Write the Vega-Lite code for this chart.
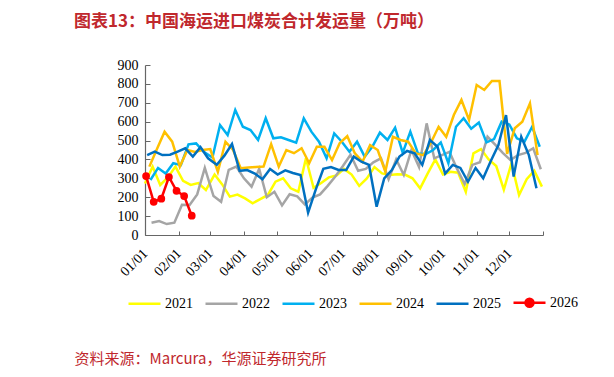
{
"$schema": "https://vega.github.io/schema/vega-lite/v6.json",
"width": 398, "height": 170,
"autosize": {"type": "none"},
"padding": {"left": 145, "top": 65, "right": 71, "bottom": 142},
"background": "white",
"config": {"view": {"stroke": null}, "font": "Liberation Serif"},
"title": {"text": "图表13：中国海运进口煤炭合计发运量（万吨）", "anchor": "start", "frame": "group", "dx": -71, "offset": 27, "font": "Noto Sans CJK SC", "fontSize": 17, "fontWeight": "bold", "color": "#C0282D"},
"data": {"values": [
{"year":"2021","date":"2021-01-01","value":273},{"year":"2021","date":"2021-01-08","value":362},{"year":"2021","date":"2021-01-15","value":265},{"year":"2021","date":"2021-01-22","value":305},{"year":"2021","date":"2021-01-29","value":362},{"year":"2021","date":"2021-02-05","value":287},{"year":"2021","date":"2021-02-12","value":265},{"year":"2021","date":"2021-02-19","value":275},{"year":"2021","date":"2021-02-26","value":238},{"year":"2021","date":"2021-03-05","value":320},{"year":"2021","date":"2021-03-12","value":268},{"year":"2021","date":"2021-03-19","value":203},{"year":"2021","date":"2021-03-26","value":214},{"year":"2021","date":"2021-04-02","value":194},{"year":"2021","date":"2021-04-09","value":168},{"year":"2021","date":"2021-04-16","value":190},{"year":"2021","date":"2021-04-23","value":212},{"year":"2021","date":"2021-04-30","value":282},{"year":"2021","date":"2021-05-07","value":300},{"year":"2021","date":"2021-05-14","value":247},{"year":"2021","date":"2021-05-21","value":229},{"year":"2021","date":"2021-05-28","value":406},{"year":"2021","date":"2021-06-04","value":250},{"year":"2021","date":"2021-06-11","value":275},{"year":"2021","date":"2021-06-18","value":305},{"year":"2021","date":"2021-06-25","value":315},{"year":"2021","date":"2021-07-02","value":350},{"year":"2021","date":"2021-07-09","value":320},{"year":"2021","date":"2021-07-16","value":260},{"year":"2021","date":"2021-07-23","value":300},{"year":"2021","date":"2021-07-30","value":360},{"year":"2021","date":"2021-08-06","value":326},{"year":"2021","date":"2021-08-13","value":318},{"year":"2021","date":"2021-08-20","value":322},{"year":"2021","date":"2021-08-27","value":320},{"year":"2021","date":"2021-09-03","value":300},{"year":"2021","date":"2021-09-10","value":247},{"year":"2021","date":"2021-09-17","value":326},{"year":"2021","date":"2021-09-24","value":400},{"year":"2021","date":"2021-10-01","value":320},{"year":"2021","date":"2021-10-08","value":335},{"year":"2021","date":"2021-10-15","value":330},{"year":"2021","date":"2021-10-22","value":229},{"year":"2021","date":"2021-10-29","value":432},{"year":"2021","date":"2021-11-05","value":455},{"year":"2021","date":"2021-11-12","value":400},{"year":"2021","date":"2021-11-19","value":365},{"year":"2021","date":"2021-11-26","value":240},{"year":"2021","date":"2021-12-03","value":380},{"year":"2021","date":"2021-12-10","value":212},{"year":"2021","date":"2021-12-17","value":295},{"year":"2021","date":"2021-12-24","value":340},{"year":"2021","date":"2021-12-31","value":256},
{"year":"2022","date":"2022-01-07","value":65},{"year":"2022","date":"2022-01-14","value":74},{"year":"2022","date":"2022-01-21","value":58},{"year":"2022","date":"2022-01-28","value":65},{"year":"2022","date":"2022-02-04","value":160},{"year":"2022","date":"2022-02-11","value":159},{"year":"2022","date":"2022-02-18","value":215},{"year":"2022","date":"2022-02-25","value":355},{"year":"2022","date":"2022-03-04","value":206},{"year":"2022","date":"2022-03-11","value":176},{"year":"2022","date":"2022-03-18","value":345},{"year":"2022","date":"2022-03-25","value":362},{"year":"2022","date":"2022-04-01","value":300},{"year":"2022","date":"2022-04-08","value":256},{"year":"2022","date":"2022-04-15","value":350},{"year":"2022","date":"2022-04-22","value":200},{"year":"2022","date":"2022-04-29","value":229},{"year":"2022","date":"2022-05-06","value":157},{"year":"2022","date":"2022-05-13","value":216},{"year":"2022","date":"2022-05-20","value":205},{"year":"2022","date":"2022-05-27","value":162},{"year":"2022","date":"2022-06-03","value":198},{"year":"2022","date":"2022-06-10","value":215},{"year":"2022","date":"2022-06-17","value":260},{"year":"2022","date":"2022-06-24","value":310},{"year":"2022","date":"2022-07-01","value":365},{"year":"2022","date":"2022-07-08","value":425},{"year":"2022","date":"2022-07-15","value":340},{"year":"2022","date":"2022-07-22","value":350},{"year":"2022","date":"2022-07-29","value":385},{"year":"2022","date":"2022-08-05","value":406},{"year":"2022","date":"2022-08-12","value":295},{"year":"2022","date":"2022-08-19","value":400},{"year":"2022","date":"2022-08-26","value":318},{"year":"2022","date":"2022-09-02","value":450},{"year":"2022","date":"2022-09-09","value":360},{"year":"2022","date":"2022-09-16","value":591},{"year":"2022","date":"2022-09-23","value":406},{"year":"2022","date":"2022-09-30","value":423},{"year":"2022","date":"2022-10-07","value":440},{"year":"2022","date":"2022-10-14","value":350},{"year":"2022","date":"2022-10-21","value":270},{"year":"2022","date":"2022-10-28","value":371},{"year":"2022","date":"2022-11-04","value":385},{"year":"2022","date":"2022-11-11","value":520},{"year":"2022","date":"2022-11-18","value":478},{"year":"2022","date":"2022-11-25","value":435},{"year":"2022","date":"2022-12-02","value":397},{"year":"2022","date":"2022-12-09","value":423},{"year":"2022","date":"2022-12-16","value":435},{"year":"2022","date":"2022-12-23","value":459},{"year":"2022","date":"2022-12-30","value":348},
{"year":"2023","date":"2023-01-06","value":291},{"year":"2023","date":"2023-01-13","value":355},{"year":"2023","date":"2023-01-20","value":326},{"year":"2023","date":"2023-01-27","value":380},{"year":"2023","date":"2023-02-03","value":370},{"year":"2023","date":"2023-02-10","value":480},{"year":"2023","date":"2023-02-17","value":485},{"year":"2023","date":"2023-02-24","value":440},{"year":"2023","date":"2023-03-03","value":410},{"year":"2023","date":"2023-03-10","value":582},{"year":"2023","date":"2023-03-17","value":529},{"year":"2023","date":"2023-03-24","value":662},{"year":"2023","date":"2023-03-31","value":573},{"year":"2023","date":"2023-04-07","value":556},{"year":"2023","date":"2023-04-14","value":503},{"year":"2023","date":"2023-04-21","value":618},{"year":"2023","date":"2023-04-28","value":512},{"year":"2023","date":"2023-05-05","value":517},{"year":"2023","date":"2023-05-12","value":503},{"year":"2023","date":"2023-05-19","value":489},{"year":"2023","date":"2023-05-26","value":618},{"year":"2023","date":"2023-06-02","value":547},{"year":"2023","date":"2023-06-09","value":494},{"year":"2023","date":"2023-06-16","value":406},{"year":"2023","date":"2023-06-23","value":538},{"year":"2023","date":"2023-06-30","value":494},{"year":"2023","date":"2023-07-07","value":441},{"year":"2023","date":"2023-07-14","value":494},{"year":"2023","date":"2023-07-21","value":415},{"year":"2023","date":"2023-07-28","value":467},{"year":"2023","date":"2023-08-04","value":542},{"year":"2023","date":"2023-08-11","value":503},{"year":"2023","date":"2023-08-18","value":568},{"year":"2023","date":"2023-08-25","value":435},{"year":"2023","date":"2023-09-01","value":547},{"year":"2023","date":"2023-09-08","value":432},{"year":"2023","date":"2023-09-15","value":428},{"year":"2023","date":"2023-09-22","value":450},{"year":"2023","date":"2023-09-29","value":490},{"year":"2023","date":"2023-10-06","value":380},{"year":"2023","date":"2023-10-13","value":573},{"year":"2023","date":"2023-10-20","value":618},{"year":"2023","date":"2023-10-27","value":563},{"year":"2023","date":"2023-11-03","value":595},{"year":"2023","date":"2023-11-10","value":490},{"year":"2023","date":"2023-11-17","value":508},{"year":"2023","date":"2023-11-24","value":600},{"year":"2023","date":"2023-12-01","value":585},{"year":"2023","date":"2023-12-08","value":512},{"year":"2023","date":"2023-12-15","value":494},{"year":"2023","date":"2023-12-22","value":573},{"year":"2023","date":"2023-12-29","value":467},
{"year":"2024","date":"2024-01-05","value":362},{"year":"2024","date":"2024-01-12","value":455},{"year":"2024","date":"2024-01-19","value":547},{"year":"2024","date":"2024-01-26","value":494},{"year":"2024","date":"2024-02-02","value":362},{"year":"2024","date":"2024-02-09","value":450},{"year":"2024","date":"2024-02-16","value":440},{"year":"2024","date":"2024-02-23","value":450},{"year":"2024","date":"2024-03-01","value":455},{"year":"2024","date":"2024-03-08","value":335},{"year":"2024","date":"2024-03-15","value":494},{"year":"2024","date":"2024-03-22","value":450},{"year":"2024","date":"2024-03-29","value":354},{"year":"2024","date":"2024-04-05","value":357},{"year":"2024","date":"2024-04-12","value":360},{"year":"2024","date":"2024-04-19","value":362},{"year":"2024","date":"2024-04-26","value":481},{"year":"2024","date":"2024-05-03","value":362},{"year":"2024","date":"2024-05-10","value":450},{"year":"2024","date":"2024-05-17","value":433},{"year":"2024","date":"2024-05-24","value":459},{"year":"2024","date":"2024-05-31","value":380},{"year":"2024","date":"2024-06-07","value":467},{"year":"2024","date":"2024-06-14","value":467},{"year":"2024","date":"2024-06-21","value":397},{"year":"2024","date":"2024-06-28","value":486},{"year":"2024","date":"2024-07-05","value":523},{"year":"2024","date":"2024-07-12","value":432},{"year":"2024","date":"2024-07-19","value":388},{"year":"2024","date":"2024-07-26","value":476},{"year":"2024","date":"2024-08-02","value":450},{"year":"2024","date":"2024-08-09","value":335},{"year":"2024","date":"2024-08-16","value":520},{"year":"2024","date":"2024-08-23","value":503},{"year":"2024","date":"2024-08-30","value":494},{"year":"2024","date":"2024-09-06","value":432},{"year":"2024","date":"2024-09-13","value":423},{"year":"2024","date":"2024-09-20","value":490},{"year":"2024","date":"2024-09-27","value":573},{"year":"2024","date":"2024-10-04","value":520},{"year":"2024","date":"2024-10-11","value":635},{"year":"2024","date":"2024-10-18","value":715},{"year":"2024","date":"2024-10-25","value":609},{"year":"2024","date":"2024-11-01","value":794},{"year":"2024","date":"2024-11-08","value":768},{"year":"2024","date":"2024-11-15","value":815},{"year":"2024","date":"2024-11-22","value":815},{"year":"2024","date":"2024-11-29","value":430},{"year":"2024","date":"2024-12-06","value":565},{"year":"2024","date":"2024-12-13","value":600},{"year":"2024","date":"2024-12-20","value":697},{"year":"2024","date":"2024-12-27","value":423},
{"year":"2025","date":"2025-01-03","value":423},{"year":"2025","date":"2025-01-10","value":441},{"year":"2025","date":"2025-01-17","value":423},{"year":"2025","date":"2025-01-24","value":425},{"year":"2025","date":"2025-01-31","value":441},{"year":"2025","date":"2025-02-07","value":459},{"year":"2025","date":"2025-02-14","value":415},{"year":"2025","date":"2025-02-21","value":465},{"year":"2025","date":"2025-02-28","value":406},{"year":"2025","date":"2025-03-07","value":372},{"year":"2025","date":"2025-03-14","value":420},{"year":"2025","date":"2025-03-21","value":482},{"year":"2025","date":"2025-03-28","value":340},{"year":"2025","date":"2025-04-04","value":344},{"year":"2025","date":"2025-04-11","value":325},{"year":"2025","date":"2025-04-18","value":295},{"year":"2025","date":"2025-04-25","value":350},{"year":"2025","date":"2025-05-02","value":320},{"year":"2025","date":"2025-05-09","value":342},{"year":"2025","date":"2025-05-16","value":328},{"year":"2025","date":"2025-05-23","value":318},{"year":"2025","date":"2025-05-30","value":118},{"year":"2025","date":"2025-06-06","value":240},{"year":"2025","date":"2025-06-13","value":350},{"year":"2025","date":"2025-06-20","value":360},{"year":"2025","date":"2025-06-27","value":344},{"year":"2025","date":"2025-07-04","value":344},{"year":"2025","date":"2025-07-11","value":415},{"year":"2025","date":"2025-07-18","value":388},{"year":"2025","date":"2025-07-25","value":371},{"year":"2025","date":"2025-08-01","value":150},{"year":"2025","date":"2025-08-08","value":300},{"year":"2025","date":"2025-08-15","value":344},{"year":"2025","date":"2025-08-22","value":415},{"year":"2025","date":"2025-08-29","value":445},{"year":"2025","date":"2025-09-05","value":432},{"year":"2025","date":"2025-09-12","value":371},{"year":"2025","date":"2025-09-19","value":503},{"year":"2025","date":"2025-09-26","value":467},{"year":"2025","date":"2025-10-03","value":325},{"year":"2025","date":"2025-10-10","value":371},{"year":"2025","date":"2025-10-17","value":355},{"year":"2025","date":"2025-10-24","value":282},{"year":"2025","date":"2025-10-31","value":355},{"year":"2025","date":"2025-11-07","value":300},{"year":"2025","date":"2025-11-14","value":392},{"year":"2025","date":"2025-11-21","value":476},{"year":"2025","date":"2025-11-28","value":635},{"year":"2025","date":"2025-12-05","value":309},{"year":"2025","date":"2025-12-12","value":520},{"year":"2025","date":"2025-12-19","value":423},{"year":"2025","date":"2025-12-26","value":247},
{"year":"2026","date":"2026-01-02","value":312},{"year":"2026","date":"2026-01-09","value":176},{"year":"2026","date":"2026-01-16","value":192},{"year":"2026","date":"2026-01-23","value":307},{"year":"2026","date":"2026-01-30","value":234},{"year":"2026","date":"2026-02-06","value":206},{"year":"2026","date":"2026-02-13","value":102}
]},
"encoding": {
  "x": {"field": "date", "type": "temporal", "timeUnit": "utcmonthdate",
    "scale": {"domain": [{"year": 2012, "month": 1, "date": 1, "utc": true}, {"year": 2013, "month": 1, "date": 1, "utc": true}]},
    "axis": {"values": [{"year":2012,"month":1,"date":1,"utc":true},{"year":2012,"month":2,"date":1,"utc":true},{"year":2012,"month":3,"date":1,"utc":true},{"year":2012,"month":4,"date":1,"utc":true},{"year":2012,"month":5,"date":1,"utc":true},{"year":2012,"month":6,"date":1,"utc":true},{"year":2012,"month":7,"date":1,"utc":true},{"year":2012,"month":8,"date":1,"utc":true},{"year":2012,"month":9,"date":1,"utc":true},{"year":2012,"month":10,"date":1,"utc":true},{"year":2012,"month":11,"date":1,"utc":true},{"year":2012,"month":12,"date":1,"utc":true},{"year":2013,"month":1,"date":1,"utc":true}],
      "format": "%m/%d", "labelExpr": "utcyear(datum.value) > 2012 ? '' : datum.label",
      "labelAngle": -45, "labelAlign": "right", "labelBaseline": "middle", "labelFont": "Liberation Serif", "labelFontSize": 14, "labelColor": "#000000", "labelPadding": 20,
      "grid": false, "domainColor": "#666666", "domainWidth": 1.2, "tickColor": "#666666", "tickSize": -4, "labelOverlap": false,
      "title": "资料来源：Marcura，华源证券研究所", "titleFont": "Noto Sans CJK SC", "titleFontSize": 15, "titleFontWeight": "normal", "titleColor": "#C0282D", "titleX": -71, "titleY": 123, "titleAlign": "left", "titleAnchor": "start", "titleBaseline": "middle"}},
  "y": {"field": "value", "type": "quantitative", "scale": {"domain": [0, 900], "nice": false},
    "axis": {"values": [0,100,200,300,400,500,600,700,800,900], "title": null, "grid": false, "domainColor": "#666666", "domainWidth": 1.2, "tickColor": "#666666", "tickSize": -5, "labelFont": "Liberation Serif", "labelFontSize": 14, "labelColor": "#000000", "labelPadding": 12}},
  "color": {"field": "year", "type": "nominal",
    "scale": {"domain": ["2021","2022","2023","2024","2025","2026"], "range": ["#FFFF00","#A5A5A5","#00B0F0","#FFC000","#0070C0","#FF0000"]},
    "legend": {"orient": "none", "legendX": -18, "legendY": 220, "direction": "horizontal", "title": null, "symbolType": "stroke", "symbolSize": 1024, "symbolStrokeWidth": 2.5, "labelFont": "Liberation Serif", "labelFontSize": 14, "labelColor": "#000000", "labelOffset": 3, "columnPadding": 7,
      "encode": {"symbols": {"update": {"shape": {"signal": "datum.value === '2026' ? 'M-1,0H1M-0.25,0A0.25,0.25,0,1,0,0.25,0A0.25,0.25,0,1,0,-0.25,0' : 'stroke'"}, "fill": {"signal": "datum.value === '2026' ? '#FF0000' : 'transparent'"}}}}}}
},
"layer": [
  {"mark": {"type": "line", "strokeWidth": 2.5}},
  {"transform": [{"filter": "datum.year === '2026'"}], "mark": {"type": "point", "filled": true, "size": 60, "opacity": 1}}
]
}
